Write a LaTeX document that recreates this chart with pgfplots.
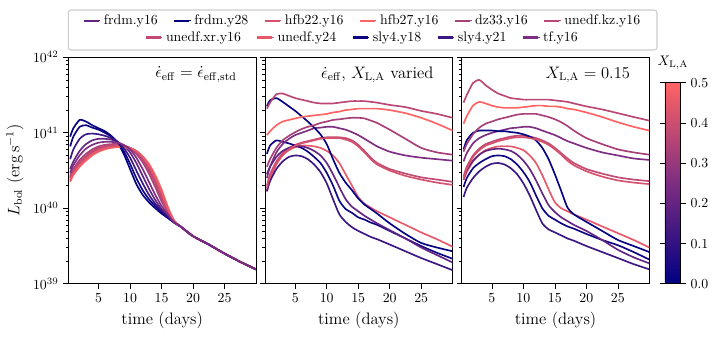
\documentclass[border=0pt]{standalone}
\usepackage{pgfplots}
\usepackage{pgfplotstable}
\pgfplotsset{compat=1.18}

% colours taken from the X_LA colour scale (navy -> purple -> salmon)
\definecolor{cfy16}{RGB}{100,36,130}
\definecolor{cfy28}{RGB}{5,2,130}
\definecolor{ch22}{RGB}{213,82,110}
\definecolor{ch27}{RGB}{255,100,100}
\definecolor{cdz}{RGB}{167,63,120}
\definecolor{ckz}{RGB}{187,71,116}
\definecolor{cxr}{RGB}{193,74,114}
\definecolor{cu24}{RGB}{229,89,106}
\definecolor{cs18}{RGB}{15,5,130}
\definecolor{cs21}{RGB}{60,22,130}
\definecolor{ctf}{RGB}{125,45,130}

% panel 1: standard heating
\pgfplotstableread{
t    fy16    fy28    h22     h27     dz      kz      xr      u24     s18     s21     tf
0.5  3.31e40 8.91e40 2.40e40 2.24e40 2.69e40 2.57e40 2.51e40 2.34e40 6.61e40 4.47e40 2.95e40
1    4.17e40 1.15e41 2.95e40 2.75e40 3.31e40 3.16e40 3.09e40 2.88e40 8.91e40 6.03e40 3.72e40
2    5.75e40 1.48e41 3.80e40 3.55e40 4.37e40 4.07e40 3.98e40 3.72e40 1.20e41 8.32e40 5.01e40
3    7.08e40 1.41e41 4.57e40 4.27e40 5.25e40 4.90e40 4.79e40 4.47e40 1.26e41 9.55e40 6.17e40
4    7.94e40 1.26e41 5.37e40 5.01e40 6.03e40 5.75e40 5.62e40 5.25e40 1.17e41 9.77e40 6.92e40
5    8.32e40 1.15e41 5.89e40 5.62e40 6.61e40 6.31e40 6.17e40 5.75e40 1.10e41 9.55e40 7.41e40
6    8.32e40 1.05e41 6.31e40 6.03e40 6.92e40 6.76e40 6.61e40 6.17e40 1.00e41 9.12e40 7.59e40
7    8.13e40 9.12e40 6.61e40 6.31e40 7.08e40 6.92e40 6.76e40 6.46e40 8.91e40 8.51e40 7.59e40
8    7.59e40 7.41e40 6.76e40 6.46e40 7.08e40 6.92e40 6.92e40 6.61e40 7.59e40 7.59e40 7.41e40
9    6.76e40 5.25e40 6.61e40 6.46e40 6.76e40 6.76e40 6.76e40 6.61e40 5.75e40 6.31e40 6.92e40
10   5.50e40 3.31e40 6.31e40 6.17e40 6.17e40 6.31e40 6.31e40 6.31e40 3.89e40 4.68e40 6.03e40
11   3.98e40 2.09e40 5.75e40 5.75e40 5.25e40 5.50e40 5.62e40 5.75e40 2.51e40 3.16e40 4.68e40
12   2.69e40 1.51e40 4.68e40 4.90e40 4.07e40 4.37e40 4.47e40 4.79e40 1.74e40 2.14e40 3.31e40
13   1.82e40 1.20e40 3.55e40 3.89e40 2.88e40 3.16e40 3.31e40 3.72e40 1.32e40 1.51e40 2.24e40
14   1.29e40 1.00e40 2.40e40 2.75e40 1.91e40 2.14e40 2.24e40 2.57e40 1.07e40 1.15e40 1.51e40
15   9.77e39 8.51e39 1.51e40 1.78e40 1.23e40 1.35e40 1.41e40 1.62e40 8.91e39 9.33e39 1.07e40
16   7.94e39 7.41e39 9.33e39 1.05e40 8.71e39 8.91e39 9.12e39 9.77e39 7.59e39 7.76e39 8.32e39
17   6.46e39 6.46e39 6.61e39 6.92e39 6.61e39 6.61e39 6.61e39 6.76e39 6.46e39 6.46e39 6.46e39
18   5.75e39 5.75e39 5.75e39 5.75e39 5.75e39 5.75e39 5.75e39 5.75e39 5.75e39 5.75e39 5.75e39
20   4.27e39 4.27e39 4.27e39 4.27e39 4.27e39 4.27e39 4.27e39 4.27e39 4.27e39 4.27e39 4.27e39
22.5 3.31e39 3.31e39 3.31e39 3.31e39 3.31e39 3.31e39 3.31e39 3.31e39 3.31e39 3.31e39 3.31e39
25   2.51e39 2.51e39 2.51e39 2.51e39 2.51e39 2.51e39 2.51e39 2.51e39 2.51e39 2.51e39 2.51e39
27.5 1.95e39 1.95e39 1.95e39 1.95e39 1.95e39 1.95e39 1.95e39 1.95e39 1.95e39 1.95e39 1.95e39
30   1.55e39 1.55e39 1.55e39 1.55e39 1.55e39 1.55e39 1.55e39 1.55e39 1.55e39 1.55e39 1.55e39
}\pone

% panel 2: heating and X_LA varied
\pgfplotstableread{
t    fy16    fy28    h22     h27     dz      kz      xr      u24     s18     s21     tf
0.5  2.82e40 2.24e41 1.86e40 9.33e40 3.55e40 2.09e41 2.00e40 1.66e40 5.25e40 1.70e40 2.51e40
1    3.55e40 2.69e41 2.63e40 1.05e41 4.47e40 2.51e41 2.82e40 2.40e40 6.76e40 2.29e40 3.55e40
2    4.79e40 2.88e41 3.98e40 1.26e41 6.31e40 3.24e41 4.17e40 3.80e40 7.94e40 3.31e40 5.50e40
3    5.75e40 2.57e41 5.13e40 1.41e41 7.94e40 3.31e41 5.37e40 5.01e40 7.59e40 4.17e40 7.08e40
4    6.31e40 2.24e41 6.03e40 1.48e41 9.12e40 3.09e41 6.31e40 5.89e40 7.24e40 4.79e40 8.32e40
5    6.61e40 1.95e41 6.76e40 1.55e41 1.02e41 2.88e41 6.92e40 6.46e40 6.76e40 5.01e40 9.33e40
6    6.61e40 1.66e41 7.24e40 1.62e41 1.12e41 2.75e41 7.41e40 6.76e40 6.31e40 4.90e40 1.00e41
7    6.31e40 1.41e41 7.59e40 1.66e41 1.20e41 2.63e41 7.76e40 6.76e40 5.62e40 4.47e40 1.07e41
8    5.75e40 1.17e41 7.94e40 1.70e41 1.26e41 2.51e41 8.13e40 6.61e40 4.79e40 3.80e40 1.15e41
9    5.01e40 9.55e40 8.32e40 1.74e41 1.35e41 2.45e41 8.51e40 6.31e40 3.98e40 3.02e40 1.17e41
10   3.98e40 7.08e40 8.51e40 1.78e41 1.41e41 2.45e41 8.71e40 5.75e40 2.95e40 2.14e40 1.20e41
11   2.82e40 4.47e40 8.51e40 1.86e41 1.48e41 2.45e41 8.71e40 5.01e40 2.00e40 1.32e40 1.20e41
12   1.91e40 2.95e40 8.51e40 1.91e41 1.51e41 2.51e41 8.71e40 3.98e40 1.26e40 8.32e39 1.15e41
13   1.32e40 2.19e40 8.13e40 2.00e41 1.55e41 2.57e41 8.51e40 2.82e40 9.77e39 6.61e39 1.10e41
14   1.05e40 1.74e40 7.59e40 2.04e41 1.58e41 2.63e41 7.94e40 2.00e40 8.71e39 5.62e39 1.02e41
15   9.12e39 1.35e40 6.61e40 2.09e41 1.58e41 2.63e41 6.92e40 1.41e40 7.59e39 5.01e39 9.33e40
16   7.94e39 1.12e40 5.50e40 2.09e41 1.55e41 2.63e41 5.75e40 1.15e40 7.08e39 4.57e39 8.32e40
17   7.08e39 9.77e39 4.47e40 2.09e41 1.45e41 2.57e41 4.68e40 1.02e40 6.46e39 4.17e39 7.41e40
18   6.31e39 8.51e39 3.80e40 2.09e41 1.35e41 2.51e41 3.98e40 9.12e39 6.03e39 3.89e39 6.61e40
20   5.13e39 6.31e39 3.16e40 2.00e41 1.10e41 2.34e41 3.31e40 7.59e39 5.01e39 3.31e39 5.62e40
22.5 3.98e39 4.57e39 2.69e40 1.82e41 8.32e40 2.19e41 2.88e40 6.03e39 3.98e39 2.69e39 5.01e40
25   3.02e39 3.47e39 2.40e40 1.58e41 6.31e40 1.95e41 2.57e40 4.79e39 3.16e39 2.19e39 4.68e40
27.5 2.40e39 3.02e39 2.19e40 1.32e41 5.50e40 1.78e41 2.40e40 3.89e39 2.57e39 1.82e39 4.47e40
30   1.91e39 2.69e39 2.04e40 1.07e41 5.13e40 1.58e41 2.24e40 3.09e39 2.14e39 1.51e39 4.27e40
}\ptwo

% panel 3: heating varied, X_LA = 0.15
\pgfplotstableread{
t    fy16    fy28    h22     h27     dz      kz      xr      u24     s18     s21     tf
0.5  2.40e40 6.03e40 2.45e40 1.32e41 5.62e40 2.51e41 2.63e40 2.40e40 1.91e40 1.41e40 4.17e40
1    3.16e40 7.94e40 3.31e40 1.66e41 7.08e40 3.16e41 3.55e40 3.02e40 2.51e40 1.86e40 5.37e40
2    4.27e40 1.00e41 4.79e40 2.29e41 9.55e40 4.57e41 5.01e40 4.17e40 3.39e40 2.51e40 7.24e40
3    5.13e40 1.07e41 5.89e40 2.57e41 1.17e41 5.01e41 6.17e40 5.13e40 3.98e40 3.09e40 8.51e40
4    5.75e40 1.07e41 6.76e40 2.45e41 1.32e41 4.27e41 7.08e40 5.89e40 4.47e40 3.55e40 9.33e40
5    6.03e40 1.07e41 7.24e40 2.29e41 1.41e41 3.72e41 7.59e40 6.31e40 4.90e40 3.89e40 1.00e41
6    6.17e40 1.05e41 7.76e40 2.19e41 1.51e41 3.31e41 8.13e40 6.61e40 5.01e40 3.98e40 1.05e41
7    6.03e40 1.05e41 8.13e40 2.14e41 1.58e41 3.09e41 8.51e40 6.61e40 4.90e40 3.80e40 1.10e41
8    5.75e40 1.02e41 8.51e40 2.14e41 1.66e41 2.88e41 8.91e40 6.61e40 4.47e40 3.39e40 1.15e41
9    5.13e40 1.00e41 8.71e40 2.14e41 1.74e41 2.82e41 9.12e40 6.31e40 3.80e40 2.82e40 1.17e41
10   4.27e40 9.55e40 8.71e40 2.19e41 1.78e41 2.75e41 9.12e40 5.89e40 3.02e40 2.14e40 1.20e41
11   3.31e40 8.91e40 8.51e40 2.24e41 1.78e41 2.75e41 8.91e40 5.01e40 2.24e40 1.48e40 1.20e41
12   2.34e40 7.94e40 8.13e40 2.29e41 1.78e41 2.75e41 8.51e40 3.98e40 1.48e40 9.55e39 1.15e41
13   1.58e40 6.31e40 7.59e40 2.29e41 1.70e41 2.75e41 7.94e40 2.75e40 1.00e40 6.31e39 1.07e41
14   1.10e40 4.47e40 6.92e40 2.24e41 1.62e41 2.75e41 7.24e40 1.78e40 7.94e39 5.25e39 1.00e41
15   8.91e39 2.82e40 6.03e40 2.24e41 1.51e41 2.69e41 6.31e40 1.20e40 7.08e39 4.79e39 9.33e40
16   7.59e39 1.70e40 5.13e40 2.19e41 1.38e41 2.63e41 5.37e40 1.00e40 6.31e39 4.37e39 8.51e40
17   6.76e39 1.02e40 4.27e40 2.09e41 1.23e41 2.57e41 4.57e40 9.12e39 5.75e39 3.98e39 7.76e40
18   6.03e39 8.32e39 3.72e40 2.04e41 1.07e41 2.45e41 3.98e40 8.32e39 5.37e39 3.72e39 7.24e40
20   5.01e39 6.61e39 3.09e40 1.86e41 8.51e40 2.24e41 3.31e40 7.08e39 4.57e39 3.16e39 6.31e40
22.5 3.80e39 5.01e39 2.63e40 1.62e41 7.08e40 2.04e41 2.88e40 5.75e39 3.80e39 2.63e39 5.50e40
25   2.82e39 3.80e39 2.34e40 1.38e41 6.03e40 1.82e41 2.57e40 4.68e39 3.24e39 2.19e39 5.01e40
27.5 2.24e39 3.16e39 2.19e40 1.20e41 5.50e40 1.62e41 2.40e40 3.80e39 2.63e39 1.82e39 4.57e40
30   1.86e39 2.63e39 2.09e40 1.07e41 5.13e40 1.45e41 2.29e40 3.02e39 2.09e39 1.55e39 4.37e40
}\pthree

\pgfplotsset{
  every axis/.append style={
    scale only axis, width=135.1bp, height=163bp,
    tick align=outside,
    major tick length=3.5pt, minor tick length=2pt,
    tick style={black, line width=0.5pt},
    axis line style={line width=0.6pt},
    label style={font=\large},
  },
  legend image code/.code={\path (0bp,0bp) -- (12bp,0bp);
    \draw[#1, line width=1.6pt] (0bp,0bp) -- (10.8bp,0bp);},
  colormap={xla}{rgb255=(0,0,130) rgb255=(125,45,130) rgb255=(255,100,100)},
}

\begin{document}
\begin{tikzpicture}
\useasboundingbox (-49.2bp,-40.5bp) rectangle (467bp,204.3bp);

\begin{axis}[name=p1,
  xmin=0.2, xmax=30, ymode=log, ymin=1e39, ymax=1e42,
  xtick={5,10,15,20,25}, ytick={1e39,1e40,1e41,1e42},
  xtick pos=bottom, ytick pos=left, xlabel={time (days)},
  every axis plot/.append style={line width=1.2pt, smooth, tension=0.4},
  ylabel={$L_{\mathrm{bol}}\ (\mathrm{erg\,s^{-1}})$}]
\addplot[cfy16] table[y=fy16]{\pone};
\addplot[cfy28] table[y=fy28]{\pone};
\addplot[ch22] table[y=h22]{\pone};
\addplot[ch27] table[y=h27]{\pone};
\addplot[cdz] table[y=dz]{\pone};
\addplot[ckz] table[y=kz]{\pone};
\addplot[cxr] table[y=xr]{\pone};
\addplot[cu24] table[y=u24]{\pone};
\addplot[cs18] table[y=s18]{\pone};
\addplot[cs21] table[y=s21]{\pone};
\addplot[ctf] table[y=tf]{\pone};
\node[anchor=north east, font=\large] at (rel axis cs:0.923,0.98)
  {$\dot{\epsilon}_{\mathrm{eff}}=\dot{\epsilon}_{\mathrm{eff,std}}$};
\end{axis}

\begin{axis}[name=p2, at={(141.6bp,0)},
  xmin=0.2, xmax=30, ymode=log, ymin=1e39, ymax=1e42,
  xtick={5,10,15,20,25}, ytick={1e39,1e40,1e41,1e42}, yticklabels={},
  xtick pos=bottom, ytick pos=left, xlabel={time (days)},
  every axis plot/.append style={line width=1.2pt, smooth, tension=0.4},
  legend columns=6,
  legend style={draw=none, fill=none, font=\normalsize, inner sep=1bp,
    /tikz/every even column/.append style={column sep=9bp},
    at={(0.52,1.088)}, anchor=center}]
\addlegendimage{cxr} \addlegendentry{unedf.xr.y16}
\addlegendimage{cu24} \addlegendentry{unedf.y24}
\addlegendimage{cs18} \addlegendentry{sly4.y18}
\addlegendimage{cs21} \addlegendentry{sly4.y21}
\addlegendimage{ctf} \addlegendentry{tf.y16}
\addplot[cxr] table[y=xr]{\ptwo};
\addplot[cu24] table[y=u24]{\ptwo};
\addplot[cs18] table[y=s18]{\ptwo};
\addplot[cs21] table[y=s21]{\ptwo};
\addplot[ctf] table[y=tf]{\ptwo};
\addplot[cfy16] table[y=fy16]{\ptwo};
\addplot[cfy28] table[y=fy28]{\ptwo};
\addplot[ch22] table[y=h22]{\ptwo};
\addplot[ch27] table[y=h27]{\ptwo};
\addplot[cdz] table[y=dz]{\ptwo};
\addplot[ckz] table[y=kz]{\ptwo};
\node[anchor=north east, font=\large] at (rel axis cs:0.923,0.98)
  {$\dot{\epsilon}_{\mathrm{eff}}$, $X_{\mathrm{L,A}}$ varied};
\end{axis}

\begin{axis}[name=p3, at={(283.2bp,0)},
  xmin=0.2, xmax=30, ymode=log, ymin=1e39, ymax=1e42,
  xtick={5,10,15,20,25}, ytick={1e39,1e40,1e41,1e42}, yticklabels={},
  xtick pos=bottom, ytick pos=left, xlabel={time (days)},
  every axis plot/.append style={line width=1.2pt, smooth, tension=0.4},
  legend columns=6,
  legend style={draw=none, fill=none, font=\normalsize, inner sep=1bp,
    /tikz/every even column/.append style={column sep=9bp},
    at={(-0.527,1.162)}, anchor=center},
  colorbar, colormap name=xla, point meta min=0, point meta max=0.5,
  colorbar shift/.style={xshift=11.2bp},
  colorbar style={at={(parent axis.south east)}, anchor=south west,
    width=11.5bp, height=144.7bp,
    ytick={0,0.1,0.2,0.3,0.4,0.5}, xlabel={},
    yticklabel style={/pgf/number format/.cd, fixed, fixed zerofill, precision=1},
    title={$X_{\mathrm{L,A}}$}}]
\addlegendimage{cfy16} \addlegendentry{frdm.y16}
\addlegendimage{cfy28} \addlegendentry{frdm.y28}
\addlegendimage{ch22} \addlegendentry{hfb22.y16}
\addlegendimage{ch27} \addlegendentry{hfb27.y16}
\addlegendimage{cdz} \addlegendentry{dz33.y16}
\addlegendimage{ckz} \addlegendentry{unedf.kz.y16}
\addplot[cxr] table[y=xr]{\pthree};
\addplot[cu24] table[y=u24]{\pthree};
\addplot[cs18] table[y=s18]{\pthree};
\addplot[cs21] table[y=s21]{\pthree};
\addplot[ctf] table[y=tf]{\pthree};
\addplot[cfy16] table[y=fy16]{\pthree};
\addplot[cfy28] table[y=fy28]{\pthree};
\addplot[ch22] table[y=h22]{\pthree};
\addplot[ch27] table[y=h27]{\pthree};
\addplot[cdz] table[y=dz]{\pthree};
\addplot[ckz] table[y=kz]{\pthree};
\node[anchor=north east, font=\large] at (rel axis cs:0.923,0.98)
  {$X_{\mathrm{L,A}}=0.15$};
\end{axis}

\draw[black!20, line width=0.8pt, rounded corners=2bp]
  ([yshift=5.3bp]p1.north west) rectangle ([xshift=5.5bp, yshift=34.1bp]p3.north east);
\end{tikzpicture}
\end{document}
